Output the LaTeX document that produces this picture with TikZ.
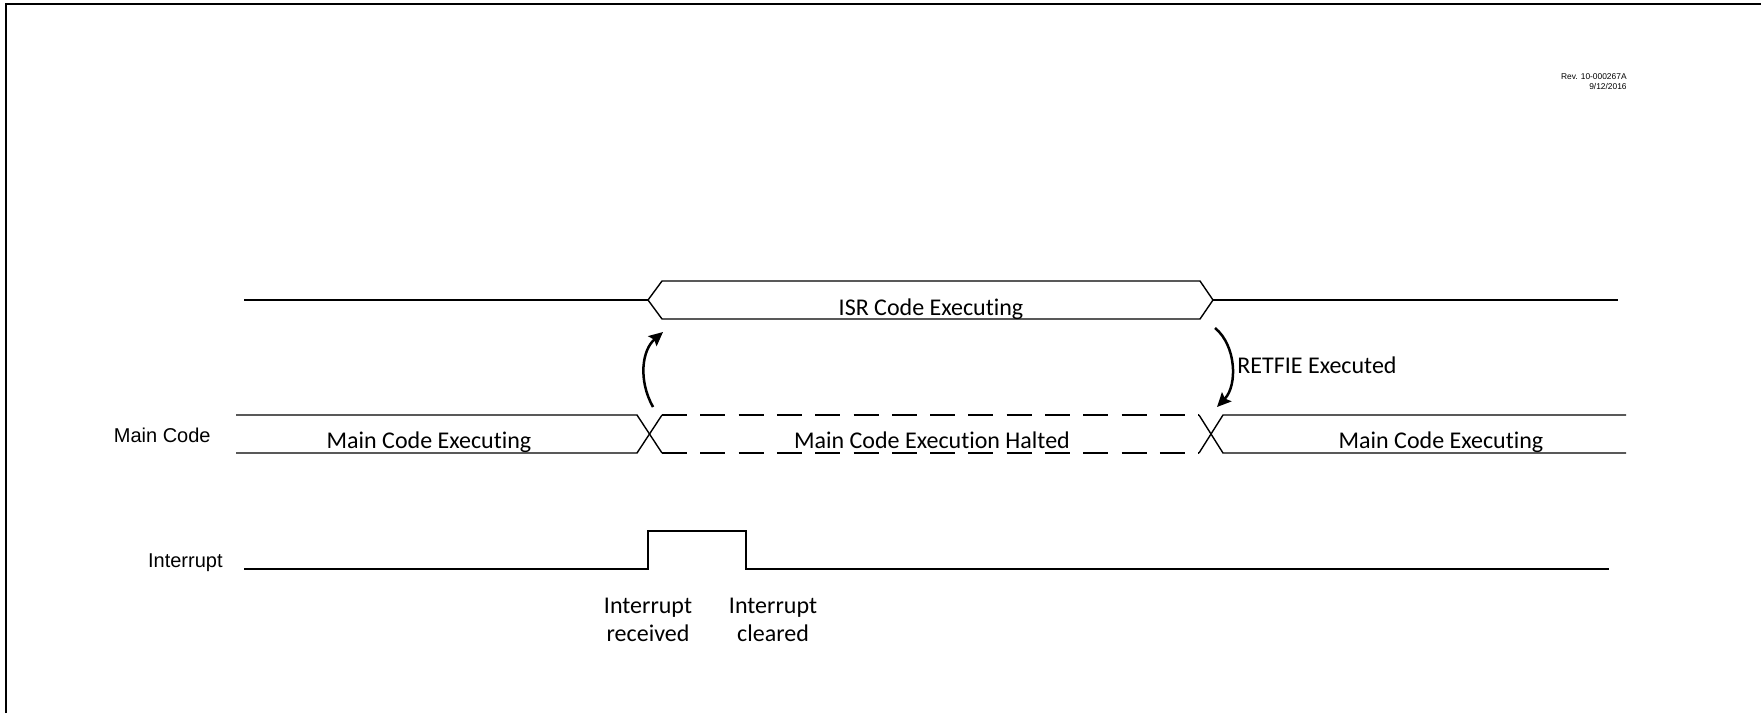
\documentclass[tikz,border=0pt]{standalone}
\usepackage{fontspec}
\setmainfont{Carlito}[Ligatures=NoCommon]
\newfontfamily\arialfont{Liberation Sans}
\usetikzlibrary{arrows.meta}

\begin{document}
\begin{tikzpicture}[
  x=0.5pt, y=-0.5pt,
  wave/.style={line width=0.7pt, black, line join=miter},
  halted/.style={wave, dash pattern=on 12.5pt off 6.65pt},
  lbl/.style={inner sep=0pt, font=\fontsize{12}{14}\selectfont, align=center},
  siglbl/.style={inner sep=0pt, font=\arialfont\fontsize{10}{12}\selectfont},
  arr/.style={-{Stealth[length=7pt, width=6.5pt, inset=1.2pt]}, line width=1.25pt, black}
]
  \useasboundingbox (0, 0) rectangle (1761, 713);

  % Frame (only left and top edges fall inside the page)
  \draw[line width=0.85pt] (6, 713) -- (6, 4) -- (1761, 4);

  % Revision stamp
  \node[anchor=north east, inner sep=0pt, align=right,
        font=\arialfont\fontsize{4.2}{5}\selectfont] (rev) at (1627, 73)
    {Rev. 10-000267A\\9/12/2016};

  % ISR bus
  \draw[wave] (244, 300) -- (648, 300);
  \draw[wave] (648, 300) -- (662, 281) -- (1200, 281) -- (1213, 300)
    -- (1200, 319) -- (662, 319) -- cycle;
  \draw[wave] (1213, 300) -- (1618, 300);
  \node[lbl, anchor=base] (isr) at (931, 315) {ISR Code Executing};

  % Main code bus
  \node[siglbl, anchor=base east] (mainsig) at (211, 442) {Main Code};
  \draw[wave] (236, 415) -- (637, 415) -- (662, 453);
  \draw[wave] (236, 453) -- (637, 453) -- (662, 415);
  \draw[halted] (662, 415) -- (1199, 415);
  \draw[halted] (662, 453) -- (1199, 453);
  \draw[wave] (1199, 415) -- (1223, 453) -- (1626, 453);
  \draw[wave] (1199, 453) -- (1223, 415) -- (1626, 415);
  \node[lbl, anchor=base] (mainl) at (429, 448) {Main Code Executing};
  \node[lbl, anchor=base] (halt) at (932, 448) {Main Code Execution Halted};
  \node[lbl, anchor=base] (mainr) at (1441, 448) {Main Code Executing};

  % Interrupt line
  \node[siglbl, anchor=base east] (intsig) at (223, 567) {Interrupt};
  \draw[wave] (244, 569) -- (648, 569) -- (648, 531) -- (746, 531)
    -- (746, 569) -- (1609, 569);
  \node[lbl, anchor=north] (rcvd) at (648, 598) {Interrupt\\received};
  \node[lbl, anchor=north] (clrd) at (773, 598) {Interrupt\\cleared};

  % Jumps between main code and ISR
  \coordinate (enterA) at (653, 407);
  \coordinate (enterB) at (663, 332);
  \coordinate (exitA) at (1215, 328);
  \coordinate (exitB) at (1217, 407);
  \draw[arr] (enterA) .. controls (638, 380) and (642, 350) .. (enterB);
  \draw[arr] (exitA) .. controls (1236, 345) and (1238, 385) .. (exitB);
  \node[lbl, anchor=base west] (retfie) at (1237, 373) {RETFIE Executed};

\end{tikzpicture}
\end{document}
